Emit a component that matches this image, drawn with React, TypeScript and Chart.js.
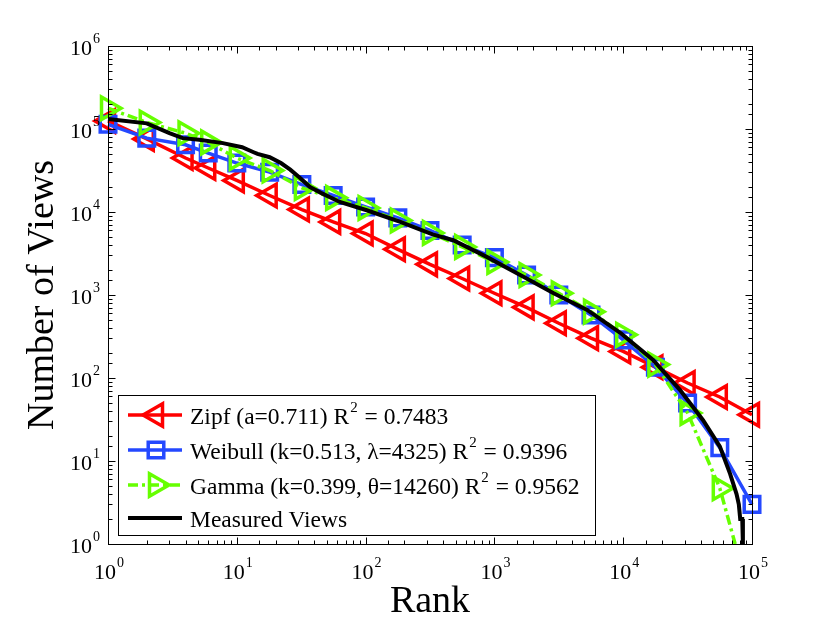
import React, { useEffect, useRef } from "react";
import Chart from "chart.js/auto";
import { drawPoint } from "chart.js/helpers";

// ranks where the fitted curves carry a marker
const markerRanks = [1, 2, 4, 6, 10, 18, 32, 56, 100, 178, 316, 562, 1000, 1778, 3162, 5623, 10000, 17783, 31623, 56234, 100000];
const zipfViews = [125000, 76000, 44700, 33900, 24000, 15800, 10700, 7600, 5500, 3550, 2340, 1580, 1050, 710, 457, 302, 209, 135, 87, 59, 36];
const weibullViews = [114000, 77600, 64600, 51300, 38900, 30200, 21400, 15800, 11500, 8500, 6000, 4000, 2820, 1740, 1000, 575, 288, 135, 50, 14.5, 3];
const gammaViews = [178000, 120000, 89000, 69000, 44700, 31600, 19500, 14800, 11200, 7900, 5600, 3800, 2500, 1740, 1050, 630, 331, 145, 38, 4.7];
// gamma curve keeps going below the last marker
const gammaEndRank = 74000;
const gammaEndViews = 1;

const measuredRanks = [1, 2, 3, 3.8, 5.1, 7.8, 11, 13.5, 14.5, 18, 22, 26, 31, 37, 45, 63, 102, 186, 331, 479, 871, 1585, 2884, 5248, 9550, 16982, 27542, 41687, 56234, 67608, 75858, 79000, 81000, 84000, 85000];
const measuredViews = [132000, 117000, 89000, 77600, 74100, 67600, 60300, 52500, 50100, 45700, 38900, 32400, 25700, 20000, 17000, 13200, 10500, 7590, 5370, 4570, 2880, 1740, 1050, 661, 347, 166, 72, 31, 15, 7, 4, 3, 2, 2, 1];

const legendLabels = ["Zipf (a=0.711) R", "Weibull (k=0.513, \u03bb=4325) R", "Gamma (k=0.399, \u03b8=14260) R", "Measured Views"];
const legendR2 = ["0.7483", "0.9396", "0.9562", ""];

const RED = "#ff0000";
const BLUE = "#2448ff";
const GREEN = "#66ff00";
const BLACK = "#000000";
const GAMMA_DASH = [10, 4, 3, 4];
const SERIF = '"Liberation Serif", "Times New Roman", serif';

const isDecade = (v: number) => {
  const l = Math.log10(v);
  return Math.abs(l - Math.round(l)) < 1e-9;
};

// draws "10" with a raised exponent, anchored by `align`
function drawPower(ctx: CanvasRenderingContext2D, exp: number, x: number, y: number, align: "center" | "right") {
  ctx.font = `22px ${SERIF}`;
  const wBase = ctx.measureText("10").width;
  ctx.font = `14px ${SERIF}`;
  const wExp = ctx.measureText(String(exp)).width;
  const total = wBase + wExp + 1;
  const start = align === "center" ? x - total / 2 : x - total;
  ctx.textAlign = "left";
  ctx.textBaseline = "alphabetic";
  ctx.font = `22px ${SERIF}`;
  ctx.fillText("10", start, y);
  ctx.font = `14px ${SERIF}`;
  ctx.fillText(String(exp), start + wBase + 1, y - 12);
}

const framePlugin = {
  id: "frame",
  afterDraw(chart: any) {
    const { ctx, chartArea: a, scales } = chart;
    const L = Math.round(a.left) + 0.5;
    const R = Math.round(a.right) + 0.5;
    const T = Math.round(a.top) + 0.5;
    const B = Math.round(a.bottom) + 0.5;
    ctx.save();
    ctx.strokeStyle = "#000";
    ctx.fillStyle = "#000";
    ctx.lineWidth = 1;
    ctx.beginPath();
    for (const t of scales.x.ticks) {
      const px = Math.round(scales.x.getPixelForValue(t.value)) + 0.5;
      const len = isDecade(t.value) ? 7 : 4;
      ctx.moveTo(px, B);
      ctx.lineTo(px, B - len);
      ctx.moveTo(px, T);
      ctx.lineTo(px, T + len);
    }
    for (const t of scales.y.ticks) {
      const py = Math.round(scales.y.getPixelForValue(t.value)) + 0.5;
      const len = isDecade(t.value) ? 7 : 4;
      ctx.moveTo(L, py);
      ctx.lineTo(L + len, py);
      ctx.moveTo(R, py);
      ctx.lineTo(R - len, py);
    }
    ctx.stroke();
    ctx.strokeRect(L, T, R - L, B - T);

    for (const t of scales.x.ticks) {
      if (!isDecade(t.value)) continue;
      const px = scales.x.getPixelForValue(t.value);
      drawPower(ctx, Math.round(Math.log10(t.value)), px + 1, a.bottom + 35, "center");
    }
    for (const t of scales.y.ticks) {
      if (!isDecade(t.value)) continue;
      const py = scales.y.getPixelForValue(t.value);
      drawPower(ctx, Math.round(Math.log10(t.value)), a.left - 8, py + 9, "right");
    }

    // axis titles
    ctx.font = `38px ${SERIF}`;
    ctx.textAlign = "center";
    ctx.textBaseline = "alphabetic";
    ctx.fillText("Rank", (a.left + a.right) / 2, 612);
    ctx.save();
    ctx.translate(53, (a.top + a.bottom) / 2);
    ctx.rotate(-Math.PI / 2);
    ctx.fillText("Number of Views", 0, 0);
    ctx.restore();

    // legend box
    const bx = 118.5, by = 395.5, bw = 477, bh = 140;
    ctx.fillStyle = "#fff";
    ctx.fillRect(bx, by, bw, bh);
    ctx.strokeStyle = "#000";
    ctx.lineWidth = 1;
    ctx.strokeRect(bx, by, bw, bh);

    const rows = [415, 450, 485, 518];
    const ds = chart.data.datasets;
    legendLabels.forEach((label, i) => {
      const d = ds[i];
      const y = rows[i];
      ctx.save();
      ctx.strokeStyle = d.borderColor;
      ctx.lineWidth = d.borderWidth;
      ctx.setLineDash(d.borderDash || []);
      ctx.beginPath();
      ctx.moveTo(128, y);
      ctx.lineTo(182, y);
      ctx.stroke();
      ctx.setLineDash([]);
      if (d.pointRadius) {
        ctx.fillStyle = "rgba(0,0,0,0)";
        ctx.lineWidth = d.pointBorderWidth;
        drawPoint(ctx, {
          pointStyle: d.pointStyle,
          rotation: d.pointRotation,
          radius: typeof d.pointRadius === "function" ? 13 : d.pointRadius,
          borderWidth: d.pointBorderWidth,
        } as any, 156, y);
      }
      ctx.restore();

      ctx.fillStyle = "#000";
      ctx.textAlign = "left";
      ctx.textBaseline = "alphabetic";
      ctx.font = `23.5px ${SERIF}`;
      const base = y + 9;
      ctx.fillText(label, 190, base);
      if (legendR2[i]) {
        let x = 190 + ctx.measureText(label).width + 1;
        ctx.font = `15px ${SERIF}`;
        ctx.fillText("2", x, base - 12);
        x += ctx.measureText("2").width + 1;
        ctx.font = `23.5px ${SERIF}`;
        ctx.fillText(` = ${legendR2[i]}`, x, base);
      }
    });
    ctx.restore();
  },
};

const App: React.FC = () => {
  const canvasRef = useRef<HTMLCanvasElement | null>(null);

  useEffect(() => {
    document.body.style.margin = "0";
    if (!canvasRef.current) return;
    const ctx = canvasRef.current.getContext("2d");
    if (!ctx) return;

    const gammaData = markerRanks
      .slice(0, gammaViews.length)
      .map((r, i) => ({ x: r, y: gammaViews[i] }));
    gammaData.push({ x: gammaEndRank, y: gammaEndViews });

    const chart = new Chart(ctx, {
      type: "line",
      data: {
        datasets: [
          {
            label: "Zipf",
            data: markerRanks.map((r, i) => ({ x: r, y: zipfViews[i] })),
            borderColor: RED,
            borderWidth: 3.5,
            pointStyle: "triangle",
            pointRotation: -90,
            pointRadius: 13,
            pointBorderWidth: 3.5,
            pointBorderColor: RED,
            pointBackgroundColor: "rgba(0,0,0,0)",
            clip: false,
            order: 4,
          },
          {
            label: "Weibull",
            data: markerRanks.map((r, i) => ({ x: r, y: weibullViews[i] })),
            borderColor: BLUE,
            borderWidth: 3.5,
            pointStyle: "rect",
            pointRadius: 11,
            pointBorderWidth: 3.5,
            pointBorderColor: BLUE,
            pointBackgroundColor: "rgba(0,0,0,0)",
            clip: false,
            order: 3,
          },
          {
            label: "Gamma",
            data: gammaData,
            borderColor: GREEN,
            borderWidth: 3.5,
            borderDash: GAMMA_DASH,
            pointStyle: "triangle",
            pointRotation: 90,
            pointRadius: (c: any) => (c.dataIndex < gammaViews.length ? 13 : 0),
            pointBorderWidth: 3.5,
            pointBorderColor: GREEN,
            pointBackgroundColor: "rgba(0,0,0,0)",
            clip: false,
            order: 2,
          },
          {
            label: "Measured Views",
            data: measuredRanks.map((r, i) => ({ x: r, y: measuredViews[i] })),
            borderColor: BLACK,
            borderWidth: 4,
            pointRadius: 0,
            clip: false,
            order: 1,
          },
        ] as any,
      },
      options: {
        animation: false,
        responsive: true,
        maintainAspectRatio: false,
        layout: { autoPadding: false, padding: { left: 108, top: 46, right: 78, bottom: 80 } },
        plugins: { legend: { display: false }, tooltip: { enabled: false } },
        scales: {
          x: {
            type: "logarithmic",
            min: 1,
            max: 100000,
            grid: { display: false, drawTicks: false },
            border: { display: false },
            ticks: { display: false, autoSkip: false },
          },
          y: {
            type: "logarithmic",
            min: 1,
            max: 1000000,
            grid: { display: false, drawTicks: false },
            border: { display: false },
            ticks: { display: false, autoSkip: false },
          },
        },
      } as any,
      plugins: [framePlugin],
    });

    return () => {
      chart.destroy();
    };
  }, []);

  return (
    <div style={{ position: "relative", width: 830, height: 624 }}>
      <canvas ref={canvasRef} />
    </div>
  );
};

export default App;
